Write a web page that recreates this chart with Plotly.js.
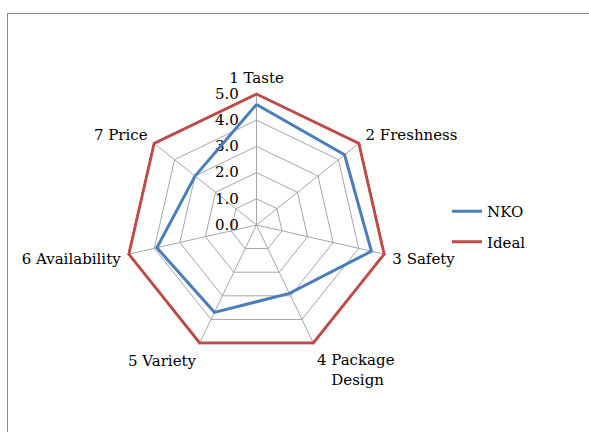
<!DOCTYPE html>
<html>
<head>
<meta charset="utf-8">
<script src="https://cdn.plot.ly/plotly-3.0.1.min.js"></script>
<style>
  html, body { margin: 0; padding: 0; background: #ffffff; overflow: hidden; }
  #frame { position: absolute; left: 7px; top: 13px; width: 700px; height: 600px;
           border-left: 1px solid #8c8c8c; border-top: 1px solid #8c8c8c; }
  #chart { position: absolute; left: 0; top: 0; width: 589px; height: 432px; }
</style>
</head>
<body>
<div id="frame"></div>
<div id="chart"></div>
<script>
const categories = ["1 Taste", "2 Freshness", "3 Safety", "4 Package<br>\u00a0\u00a0\u00a0Design", "5 Variety", "6 Availability", "7 Price"];
const nkoValues = [4.6, 4.3, 4.5, 2.9, 3.7, 3.9, 3.0];
const idealValues = [5, 5, 5, 5, 5, 5, 5];
const radialTicks = [0, 1, 2, 3, 4, 5];
const radialTickLabels = ["0.0", "1.0", "2.0", "3.0", "4.0", "5.0"];

function closed(arr) { return arr.concat([arr[0]]); }

const W = 589, H = 432;
const RMAX = 5.07;                 // a little room so the outer line is not clipped
const cx = 256.5, cy = 225, R = 131 * RMAX / 5;
const FONT = "DejaVu Serif, Liberation Serif, serif";

const traces = [
  {
    type: "scatterpolar", mode: "lines", name: "NKO", legendgroup: "a",
    r: closed(nkoValues), theta: closed(categories), cliponaxis: false,
    line: { color: "#4a7ebb", width: 3 }
  },
  {
    type: "scatterpolar", mode: "lines", name: "Ideal", legendgroup: "b",
    r: closed(idealValues), theta: closed(categories), cliponaxis: false,
    line: { color: "#be4b48", width: 3 }
  }
];

const layout = {
  width: W, height: H,
  margin: { l: 0, r: 0, t: 0, b: 0 },
  paper_bgcolor: "rgba(0,0,0,0)",
  plot_bgcolor: "rgba(0,0,0,0)",
  font: { family: FONT, size: 15, color: "#000000" },
  showlegend: true,
  legend: {
    x: 447 / W, xanchor: "left", y: (H - 195) / H, yanchor: "top",
    bgcolor: "rgba(0,0,0,0)", tracegroupgap: 8,
    font: { family: FONT, size: 15, color: "#000000" }
  },
  polar: {
    domain: { x: [(cx - R) / W, (cx + R) / W], y: [(H - cy - R) / H, (H - cy + R) / H] },
    gridshape: "linear",
    bgcolor: "rgba(0,0,0,0)",
    angularaxis: {
      direction: "clockwise", rotation: 90,
      type: "category", layer: "below traces",
      showline: false,
      gridcolor: "#a6a6a6", gridwidth: 1,
      ticks: "outside", ticklen: 3, tickcolor: "rgba(0,0,0,0)",
      tickfont: { family: FONT, size: 15, color: "#000000" }
    },
    radialaxis: {
      range: [0, RMAX], tickvals: radialTicks, ticktext: radialTickLabels,
      angle: 90, side: "counterclockwise", tickangle: 90, layer: "below traces",
      showline: true, linecolor: "#a6a6a6", linewidth: 1,
      gridcolor: "#a6a6a6", gridwidth: 1,
      ticks: "outside", ticklen: 12, tickcolor: "rgba(0,0,0,0)",
      tickfont: { family: FONT, size: 15, color: "#000000" }
    }
  }
};

Plotly.newPlot("chart", traces, layout, { displayModeBar: false, staticPlot: true });
</script>
</body>
</html>
